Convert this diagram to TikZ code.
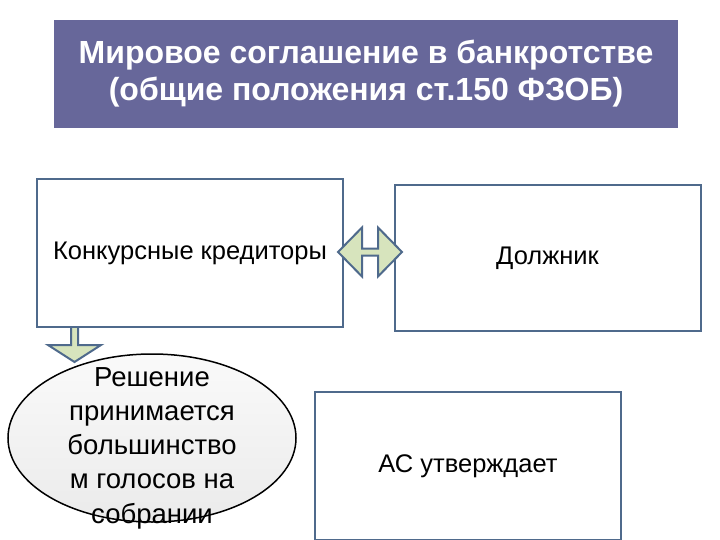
\documentclass[tikz,border=0pt]{standalone}
\usepackage{fontspec}
\setmainfont{Liberation Sans}
\usetikzlibrary{calc, shapes.geometric}
\definecolor{titlebg}{HTML}{67679A}
\definecolor{boxline}{HTML}{4F6A8C}
\definecolor{arrowfill}{HTML}{D7E4BD}
\tikzset{
  box/.style={
    draw=boxline,
    line width=2pt,
    fill=white,
    minimum width=306pt,
    minimum height=148pt,
    font=\fontsize{25.5}{30}\selectfont},
  blk/.style={
    draw=boxline,
    line width=2pt,
    fill=arrowfill,
    line join=miter}
  }

\begin{document}
\begin{tikzpicture}[x=1pt,y=-1pt]
    \useasboundingbox (0,0) rectangle (720,540);
    \node (title) at (366,74) [fill=titlebg, minimum width=624pt, minimum height=108pt,
      align=center, text=white, font=\bfseries\fontsize{32}{37}\selectfont]
      {Мировое соглашение в банкротстве\\(общие положения ст.150 ФЗОБ)};
    \node[box] (kred) at (190,253) {Конкурсные кредиторы};
    \node[box, minimum height=146pt] (dolzh) at (547.5,258) {Должник};
    \node[box] (as) at (468,466) {АС утверждает};
    \node (resh) at (152,438) [ellipse, draw=black, line width=1.5pt,
      top color=gray!4, bottom color=gray!16,
      minimum width=288pt, minimum height=168pt, inner sep=0pt] {};
    \node (reshtext) at ($(resh)+(0,10)$) [align=center,
      font=\fontsize{27.5}{34.2}\selectfont]
      {Решение\\принимается\\большинство\\м голосов на\\собрании};
    % arrows between the blocks
    \coordinate (m) at ($(kred.east)+(26,-1)$);
    \draw[blk] ($(m)+(-32,0)$) -- ++(24,-24.5) -- ++(0,21) -- ++(16,0)
      -- ++(0,-21) -- ++(24,24.5) -- ++(-24,24.5) -- ++(0,-21)
      -- ++(-16,0) -- ++(0,21) -- cycle;
    \coordinate (d) at ($(kred.south west)+(35,0)$);
    \draw[blk] (d) -- ++(0,17) -- ++(-23,0) -- ++(26.5,17)
      -- ++(26.5,-17) -- ++(-23,0) -- ++(0,-17);
\end{tikzpicture}
\end{document}
